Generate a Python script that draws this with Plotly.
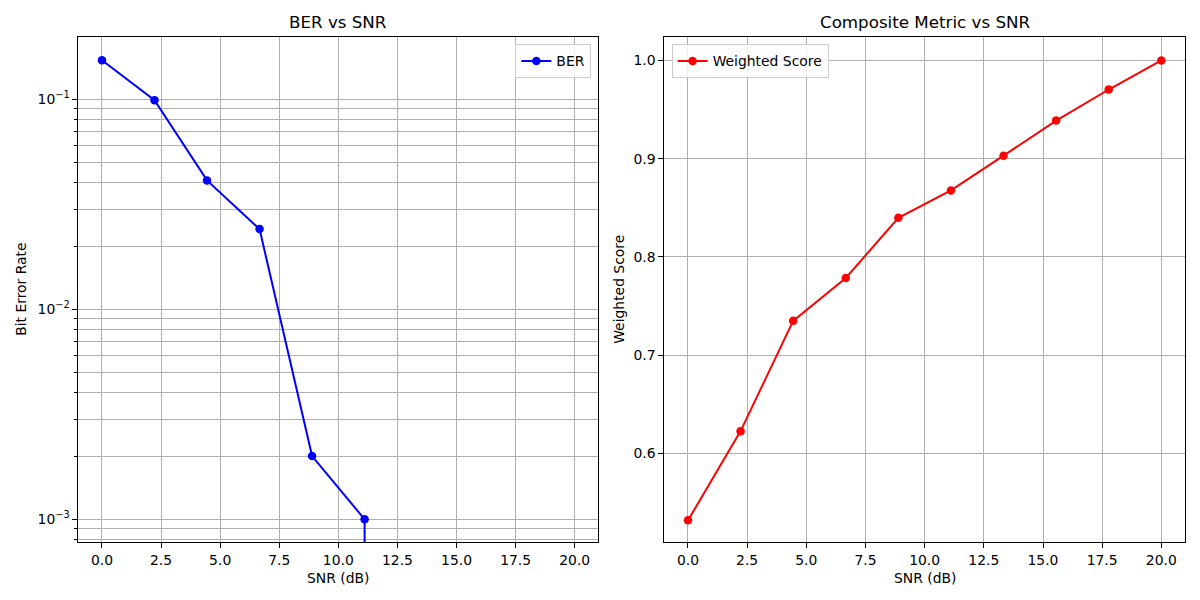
import plotly.graph_objects as go

snr = [0.0, 2.222, 4.444, 6.667, 8.889, 11.111, 13.333, 15.556, 17.778, 20.0]
ber = [0.1535, 0.099, 0.0411, 0.0241, 0.002, 0.001, 0.0, 0.0, 0.0, 0.0]
score = [0.532, 0.6228, 0.735, 0.7786, 0.8398, 0.8677, 0.9031, 0.9388, 0.9704, 1.0]

x_ticks = [0, 2.5, 5, 7.5, 10, 12.5, 15, 17.5, 20]
x_ticktext = ["0.0", "2.5", "5.0", "7.5", "10.0", "12.5", "15.0", "17.5", "20.0"]
ber_ticks = [0.001, 0.01, 0.1]
ber_ticktext = ["10<sup>\u22123</sup>", "10<sup>\u22122</sup>", "10<sup>\u22121</sup>"]
score_ticks = [0.6, 0.7, 0.8, 0.9, 1.0]

# matplotlib-like clipping of non-positive values on a log axis
ber_plot = [v if v > 0 else 1e-300 for v in ber]
minor_vals = [m * d for d in [1e-4, 1e-3, 1e-2, 1e-1] for m in range(2, 10)]

FONT = "DejaVu Sans"
GRID = "#b0b0b0"
FS = 13.9
TS = 16.7

fig = go.Figure()
fig.add_trace(go.Scatter(
    x=snr, y=ber_plot, mode="lines+markers", name="BER",
    line=dict(color="blue", width=2), marker=dict(color="blue", size=8.5),
    xaxis="x", yaxis="y", legend="legend"))
fig.add_trace(go.Scatter(
    x=snr, y=score, mode="lines+markers", name="Weighted Score",
    line=dict(color="red", width=2), marker=dict(color="red", size=8.5),
    xaxis="x2", yaxis="y2", legend="legend2"))

axis_common = dict(
    showline=True, mirror=True, linecolor="black", linewidth=1,
    ticks="outside", ticklen=5, tickwidth=1, tickcolor="black",
    showgrid=True, gridcolor=GRID, gridwidth=1, zeroline=False,
    tickfont=dict(family=FONT, size=FS, color="black"),
)

fig.update_layout(
    width=1200, height=600,
    margin=dict(l=0, r=0, t=0, b=0),
    paper_bgcolor="white", plot_bgcolor="white",
    font=dict(family=FONT, size=FS, color="black"),
    xaxis=dict(domain=[0.0653, 0.4986], range=[-1, 21], tickvals=x_ticks, ticktext=x_ticktext,
               anchor="y", **axis_common),
    yaxis=dict(domain=[0.0962, 0.9378], type="log", range=[-3.1095, -0.7048],
               tickvals=ber_ticks, ticktext=ber_ticktext, anchor="x",
               minor=dict(tickvals=minor_vals, ticks="outside", ticklen=3, tickcolor="black",
                          showgrid=True, gridcolor=GRID, gridwidth=1),
               **axis_common),
    xaxis2=dict(domain=[0.5536, 0.9875], range=[-1, 21], tickvals=x_ticks, ticktext=x_ticktext,
                anchor="y2", **axis_common),
    yaxis2=dict(domain=[0.0962, 0.9378], range=[0.5097, 1.0235], tickvals=score_ticks,
                tickformat=".1f", anchor="x2", **axis_common),
    legend=dict(x=0.4928, y=0.926, xanchor="right", yanchor="top",
                bgcolor="rgba(255,255,255,0.8)", bordercolor="#cccccc", borderwidth=1,
                font=dict(family=FONT, size=FS), itemwidth=30),
    legend2=dict(x=0.5597, y=0.926, xanchor="left", yanchor="top",
                 bgcolor="rgba(255,255,255,0.8)", bordercolor="#cccccc", borderwidth=1,
                 font=dict(family=FONT, size=FS), itemwidth=30),
    showlegend=True,
    annotations=[
        dict(text="BER vs SNR", x=(0.0653 + 0.4986) / 2, y=1 - 22 / 600, xref="paper", yref="paper",
             showarrow=False, xanchor="center", yanchor="middle", font=dict(family=FONT, size=TS)),
        dict(text="Composite Metric vs SNR", x=(0.5536 + 0.9875) / 2, y=1 - 22 / 600, xref="paper",
             yref="paper", showarrow=False, xanchor="center", yanchor="middle",
             font=dict(family=FONT, size=TS)),
        dict(text="SNR (dB)", x=(0.0653 + 0.4986) / 2, y=1 - 578 / 600, xref="paper", yref="paper",
             showarrow=False, xanchor="center", yanchor="middle", font=dict(family=FONT, size=FS)),
        dict(text="SNR (dB)", x=(0.5536 + 0.9875) / 2, y=1 - 578 / 600, xref="paper", yref="paper",
             showarrow=False, xanchor="center", yanchor="middle", font=dict(family=FONT, size=FS)),
        dict(text="Bit Error Rate", x=21 / 1200, y=(0.0962 + 0.9378) / 2, xref="paper", yref="paper",
             showarrow=False, xanchor="center", yanchor="middle", textangle=-90,
             font=dict(family=FONT, size=FS)),
        dict(text="Weighted Score", x=619 / 1200, y=(0.0962 + 0.9378) / 2, xref="paper", yref="paper",
             showarrow=False, xanchor="center", yanchor="middle", textangle=-90,
             font=dict(family=FONT, size=FS)),
    ],
)

fig.write_html("out.html")
